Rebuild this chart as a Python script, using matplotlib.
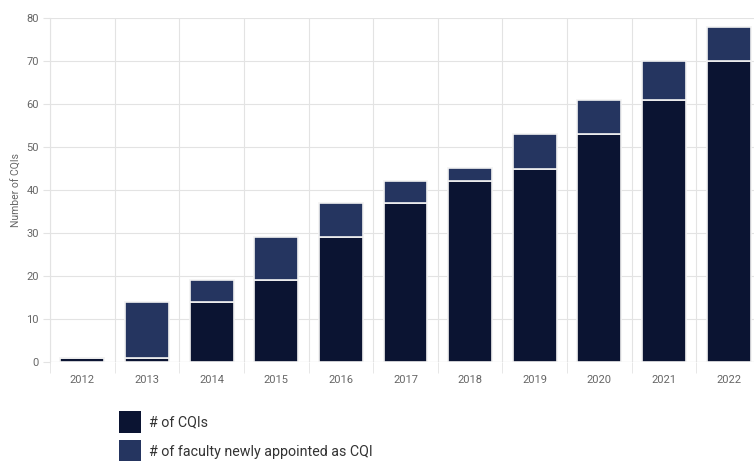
import matplotlib
matplotlib.use("Agg")
import matplotlib.pyplot as plt
import numpy as np

plt.rcParams['font.family'] = ['Roboto', 'DejaVu Sans']

years = ['2012', '2013', '2014', '2015', '2016', '2017', '2018', '2019', '2020', '2021', '2022']
cqis = [1, 1, 14, 19, 29, 37, 42, 45, 53, 61, 70]
new_cqi = [0, 13, 5, 10, 8, 5, 3, 8, 8, 9, 8]
y_ticks = [0, 10, 20, 30, 40, 50, 60, 70, 80]

dark = '#0b1432'
mid = '#253560'
grid = '#e3e3e3'
tick_col = '#666666'

W, H = 754, 461
fig = plt.figure(figsize=(W / 100, H / 100), dpi=100)
ax = fig.add_axes([50 / W, 99 / H, 711 / W, 344 / H])

x = np.arange(len(years))
ax.bar(x, cqis, width=0.68, color=dark, edgecolor='#f2f2f2', linewidth=1.2,
       label='# of CQIs', zorder=3)
ax.bar(x, new_cqi, bottom=cqis, width=0.68, color=mid, edgecolor='#f2f2f2',
       linewidth=1.2, label='# of faculty newly appointed as CQI', zorder=3)

ax.set_xlim(-0.5, len(years) - 0.5)
ax.set_ylim(0, 80)
ax.set_yticks(y_ticks)
ax.set_xticks(x)
ax.set_xticklabels(years)
ax.set_xticks(np.arange(-0.5, len(years), 1), minor=True)

ax.grid(axis='y', color=grid, linewidth=0.8, zorder=0)
ax.grid(axis='x', which='minor', color=grid, linewidth=0.8, zorder=0)
for s in ['top', 'right', 'bottom']:
    ax.spines[s].set_visible(False)
ax.spines['left'].set_color(grid)
ax.spines['left'].set_linewidth(0.8)
ax.axhline(0, color='#cccccc', linewidth=0.8, zorder=2)

ax.tick_params(axis='y', length=5, color=grid, labelcolor=tick_col, labelsize=8, pad=3)
ax.tick_params(axis='x', which='major', length=0, labelcolor=tick_col, labelsize=8, pad=9)
ax.tick_params(axis='x', which='minor', length=8, color=grid)

ax.set_ylabel('Number of CQIs', fontsize=7.5, color=tick_col, labelpad=3.5)

handles, labels = ax.get_legend_handles_labels()
leg = fig.legend(handles, labels, loc='upper left', bbox_to_anchor=(106 / W, 1 - 398 / H),
                 frameon=False, handlelength=1.58, handleheight=2.0, handletextpad=0.5,
                 labelspacing=0.5, fontsize=10.3)
for t in leg.get_texts():
    t.set_color('#333333')
for p in leg.get_patches():
    p.set_edgecolor('none')

fig.savefig('out.png', dpi=100)
